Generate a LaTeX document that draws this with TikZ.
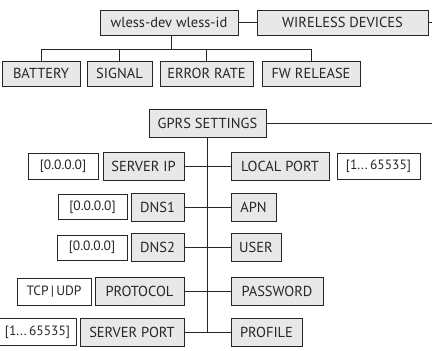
\documentclass[tikz,border=0pt]{standalone}
\usepackage{fontspec}
\setmainfont{PT Sans}
\definecolor{boxfill}{HTML}{E8E8E8}
\definecolor{ink}{HTML}{262626}
\begin{document}
\begin{tikzpicture}[x=1pt,y=-1pt,
  gbox/.style={draw=ink,fill=boxfill,line width=0.9pt,inner sep=0pt,text=ink,font=\fontsize{14.5}{14.5}\selectfont},
  wbox/.style={draw=ink,fill=white,line width=0.7pt,inner sep=0pt,text=ink,font=\fontsize{13.5}{13.5}\selectfont},
  conn/.style={draw=ink,line width=1pt}]
\useasboundingbox (0,0) rectangle (432,351);
% top tree
\node[gbox,minimum width=138pt,minimum height=25pt] (wless) at (169,22.5) {wless-dev wless-id};
\node[gbox,minimum width=171pt,minimum height=25pt] (wdev) at (342.5,22.5) {WIRELESS DEVICES};
\coordinate (wend) at (433,22.5);
\node[gbox,minimum width=78pt,minimum height=25pt] (battery) at (41,73.5) {BATTERY};
\node[gbox,minimum width=65pt,minimum height=25pt] (signal) at (119.5,73.5) {SIGNAL};
\node[gbox,minimum width=93pt,minimum height=25pt] (error) at (206.5,73.5) {ERROR RATE};
\node[gbox,minimum width=98pt,minimum height=25pt] (fw) at (311,73.5) {FW RELEASE};
\coordinate (bar) at (171,49);
\draw[conn] (wless.east) -- (wdev.west);
\draw[conn] (wdev.east) -- (wend);
\draw[conn] (wless.south -| bar) -- (bar);
\draw[conn] (battery.north) |- (fw.north |- bar) -- (fw.north);
\draw[conn] (signal.north) -- (signal.north |- bar);
\draw[conn] (error.north) -- (error.north |- bar);
% GPRS tree
\node[gbox,minimum width=117pt,minimum height=28pt] (gprs) at (207.5,123) {GPRS SETTINGS};
\coordinate (gend) at (433,123);
\node[gbox,minimum width=81pt,minimum height=28pt] (serverip) at (143.5,166) {SERVER IP};
\node[wbox,minimum width=70pt,minimum height=26pt] (ip1) at (63,166) {[0.0.0.0]};
\node[gbox,minimum width=98pt,minimum height=28pt] (localport) at (280,166) {LOCAL PORT};
\node[wbox,minimum width=83pt,minimum height=26pt] (lprange) at (378.5,166) {[1...\,65535]};
\node[gbox,minimum width=53pt,minimum height=28pt] (dns1) at (157.5,207) {DNS1};
\node[wbox,minimum width=69pt,minimum height=25pt] (ip2) at (92.5,207) {[0.0.0.0]};
\node[gbox,minimum width=45pt,minimum height=28pt] (apn) at (253.5,207) {APN};
\node[gbox,minimum width=53pt,minimum height=28pt] (dns2) at (157.5,247.5) {DNS2};
\node[wbox,minimum width=70pt,minimum height=25pt] (ip3) at (92,247.5) {[0.0.0.0]};
\node[gbox,minimum width=50pt,minimum height=28pt] (user) at (256,247.5) {USER};
\node[gbox,minimum width=89pt,minimum height=28pt] (protocol) at (139.5,291.5) {PROTOCOL};
\node[wbox,minimum width=74pt,minimum height=27pt] (tcp) at (54,291.5) {TCP\,|\,UDP};
\node[gbox,minimum width=92pt,minimum height=28pt] (password) at (277,291.5) {PASSWORD};
\node[gbox,minimum width=104pt,minimum height=28pt] (serverport) at (132,332) {SERVER PORT};
\node[wbox,minimum width=77pt,minimum height=27pt] (sprange) at (37.5,332) {[1...\,65535]};
\node[gbox,minimum width=71pt,minimum height=28pt] (profile) at (266.5,332) {PROFILE};
\draw[conn] (gprs.east) -- (gend);
\draw[conn] (gprs.south) -- (gprs.south |- serverport.east);
\draw[conn] (serverip.east) -- (localport.west);
\draw[conn] (dns1.east) -- (apn.west);
\draw[conn] (dns2.east) -- (user.west);
\draw[conn] (protocol.east) -- (password.west);
\draw[conn] (serverport.east) -- (profile.west);
\end{tikzpicture}
\end{document}
